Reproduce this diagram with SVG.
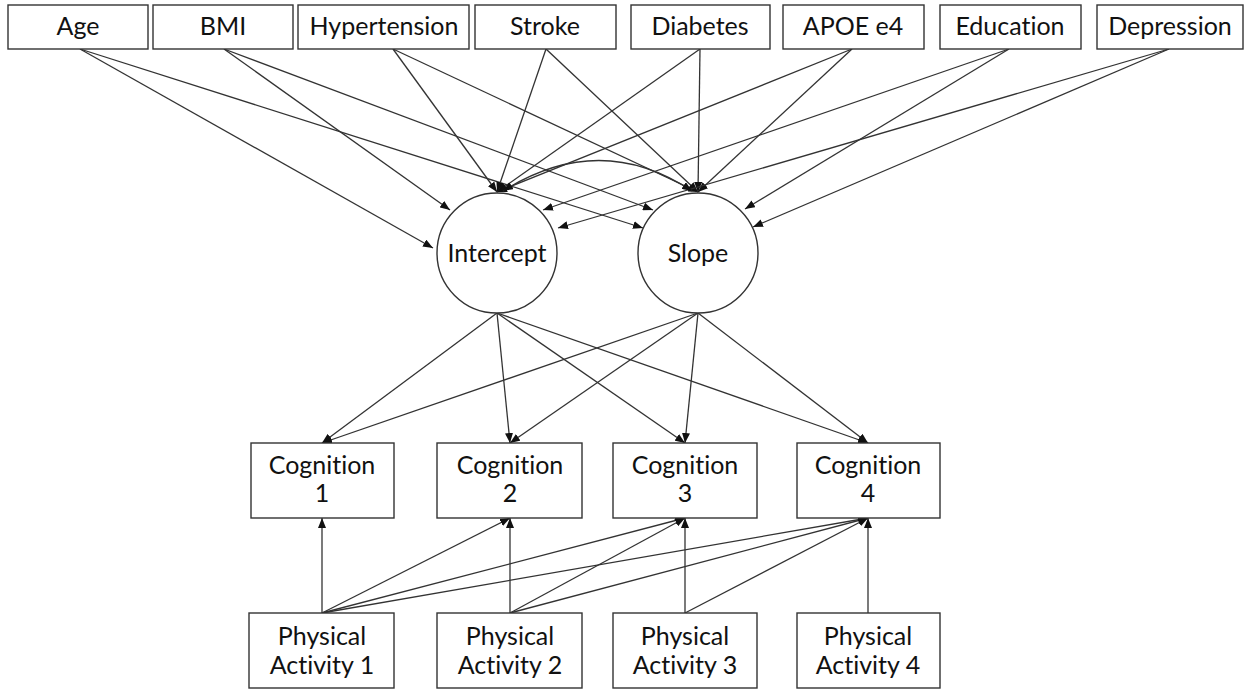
<svg xmlns="http://www.w3.org/2000/svg" width="1254" height="692" viewBox="0 0 1254 692">
<style>
.box{fill:#fff;stroke:#333;stroke-width:1.4}
.t{font-family:Lato,"Liberation Sans",sans-serif;font-size:25px;fill:#111;text-anchor:middle;font-variant-ligatures:none}
.c line,.c path{stroke:#333;stroke-width:1.3;fill:none}
</style>
<defs>
<marker id="ah" markerUnits="userSpaceOnUse" markerWidth="10" markerHeight="8" refX="10" refY="4" orient="auto-start-reverse"><path d="M0,0 L10,4 L0,8 z" fill="#111"/></marker>
</defs>
<rect width="1254" height="692" fill="#fff"/>
<g class="c" id="connectors">
<line x1="80" y1="49" x2="433" y2="248" marker-end="url(#ah)"/>
<line x1="80" y1="49" x2="643" y2="228" marker-end="url(#ah)"/>
<line x1="224" y1="49" x2="450" y2="210" marker-end="url(#ah)"/>
<line x1="224" y1="49" x2="653" y2="210" marker-end="url(#ah)"/>
<line x1="393" y1="49" x2="497" y2="192" marker-end="url(#ah)"/>
<line x1="393" y1="49" x2="698" y2="192" marker-end="url(#ah)"/>
<line x1="546" y1="49" x2="497" y2="192" marker-end="url(#ah)"/>
<line x1="546" y1="49" x2="698" y2="192" marker-end="url(#ah)"/>
<line x1="700" y1="49" x2="497" y2="192" marker-end="url(#ah)"/>
<line x1="700" y1="49" x2="698" y2="192" marker-end="url(#ah)"/>
<line x1="852" y1="49" x2="497" y2="192" marker-end="url(#ah)"/>
<line x1="852" y1="49" x2="698" y2="192" marker-end="url(#ah)"/>
<line x1="1009" y1="49" x2="543" y2="210" marker-end="url(#ah)"/>
<line x1="1009" y1="49" x2="745" y2="209" marker-end="url(#ah)"/>
<line x1="1169" y1="49" x2="558" y2="228" marker-end="url(#ah)"/>
<line x1="1169" y1="49" x2="753" y2="227" marker-end="url(#ah)"/>
<path d="M503,191 Q600,130 692,191" marker-start="url(#ah)" marker-end="url(#ah)"/>
<line x1="497" y1="313" x2="322" y2="443" marker-end="url(#ah)"/>
<line x1="497" y1="313" x2="510" y2="443" marker-end="url(#ah)"/>
<line x1="497" y1="313" x2="685" y2="443" marker-end="url(#ah)"/>
<line x1="497" y1="313" x2="868" y2="443" marker-end="url(#ah)"/>
<line x1="698" y1="313" x2="322" y2="443" marker-end="url(#ah)"/>
<line x1="698" y1="313" x2="510" y2="443" marker-end="url(#ah)"/>
<line x1="698" y1="313" x2="685" y2="443" marker-end="url(#ah)"/>
<line x1="698" y1="313" x2="868" y2="443" marker-end="url(#ah)"/>
<line x1="322" y1="613" x2="322" y2="518" marker-end="url(#ah)"/>
<line x1="322" y1="613" x2="510" y2="518" marker-end="url(#ah)"/>
<line x1="322" y1="613" x2="685" y2="518" marker-end="url(#ah)"/>
<line x1="322" y1="613" x2="868" y2="518" marker-end="url(#ah)"/>
<line x1="510" y1="613" x2="510" y2="518" marker-end="url(#ah)"/>
<line x1="510" y1="613" x2="685" y2="518" marker-end="url(#ah)"/>
<line x1="510" y1="613" x2="868" y2="518" marker-end="url(#ah)"/>
<line x1="685" y1="613" x2="685" y2="518" marker-end="url(#ah)"/>
<line x1="685" y1="613" x2="868" y2="518" marker-end="url(#ah)"/>
<line x1="868" y1="613" x2="868" y2="518" marker-end="url(#ah)"/>
</g>
<g id="age"><rect class="box" x="8" y="5" width="140" height="44"/><text class="t" x="78" y="35">Age</text></g>
<g id="bmi"><rect class="box" x="153" y="5" width="140" height="44"/><text class="t" x="223" y="35">BMI</text></g>
<g id="hypertension"><rect class="box" x="298" y="5" width="171" height="44"/><text class="t" x="384" y="35">Hypertension</text></g>
<g id="stroke"><rect class="box" x="475" y="5" width="141" height="44"/><text class="t" x="545" y="35">Stroke</text></g>
<g id="diabetes"><rect class="box" x="631" y="5" width="139" height="44"/><text class="t" x="700" y="35">Diabetes</text></g>
<g id="apoe"><rect class="box" x="783" y="5" width="141" height="44"/><text class="t" x="853" y="35">APOE e4</text></g>
<g id="education"><rect class="box" x="940" y="5" width="141" height="44"/><text class="t" x="1010" y="35">Education</text></g>
<g id="depression"><rect class="box" x="1097" y="5" width="146" height="44"/><text class="t" x="1170" y="35">Depression</text></g>
<g id="intercept"><circle class="box" cx="497" cy="253" r="60"/><text class="t" x="497" y="262">Intercept</text></g>
<g id="slope"><circle class="box" cx="698" cy="253" r="60"/><text class="t" x="698" y="262">Slope</text></g>
<g id="cog1"><rect class="box" x="251" y="443" width="143" height="75"/><text class="t" x="322" y="474">Cognition</text><text class="t" x="322" y="502">1</text></g>
<g id="cog2"><rect class="box" x="437" y="443" width="145" height="75"/><text class="t" x="510" y="474">Cognition</text><text class="t" x="510" y="502">2</text></g>
<g id="cog3"><rect class="box" x="613" y="443" width="144" height="75"/><text class="t" x="685" y="474">Cognition</text><text class="t" x="685" y="502">3</text></g>
<g id="cog4"><rect class="box" x="797" y="443" width="143" height="75"/><text class="t" x="868" y="474">Cognition</text><text class="t" x="868" y="502">4</text></g>
<g id="pa1"><rect class="box" x="249" y="613" width="145" height="75"/><text class="t" x="322" y="645">Physical</text><text class="t" x="322" y="674">Activity 1</text></g>
<g id="pa2"><rect class="box" x="437" y="613" width="145" height="75"/><text class="t" x="510" y="645">Physical</text><text class="t" x="510" y="674">Activity 2</text></g>
<g id="pa3"><rect class="box" x="613" y="613" width="144" height="75"/><text class="t" x="685" y="645">Physical</text><text class="t" x="685" y="674">Activity 3</text></g>
<g id="pa4"><rect class="box" x="797" y="613" width="143" height="75"/><text class="t" x="868" y="645">Physical</text><text class="t" x="868" y="674">Activity 4</text></g>
</svg>
